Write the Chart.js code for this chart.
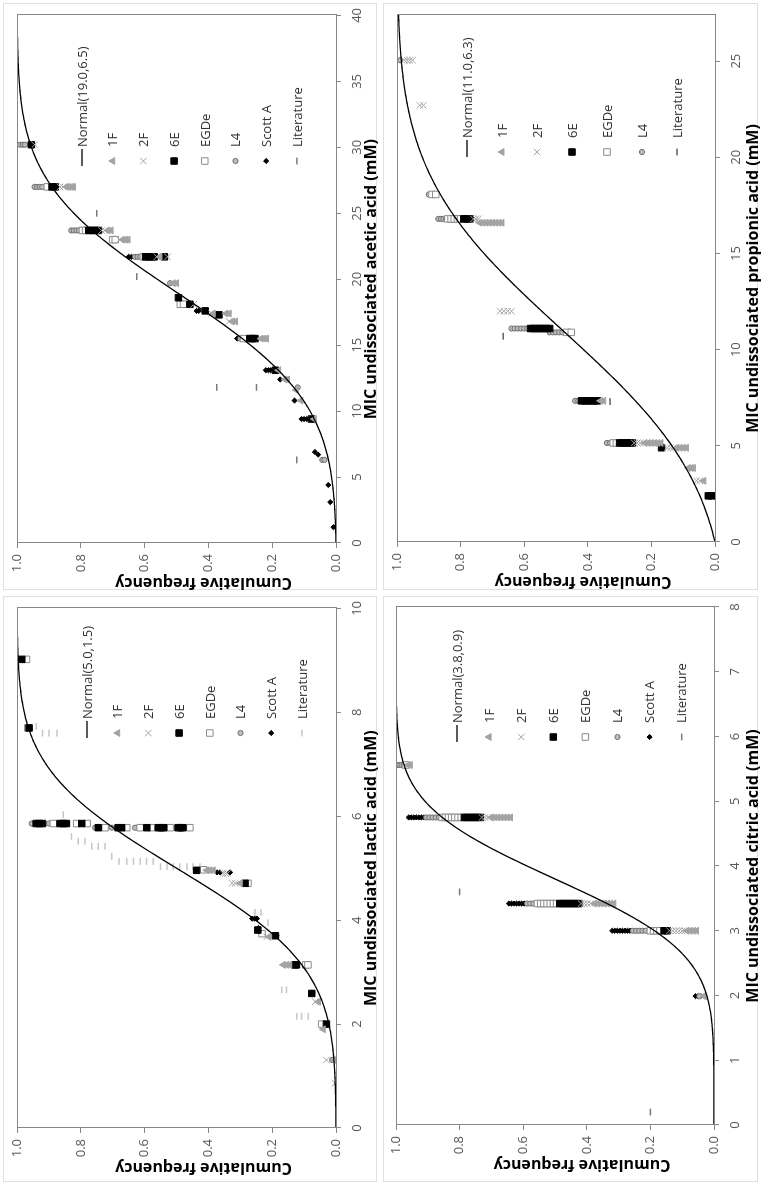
<!DOCTYPE html>
<html lang="en">
<head>
<meta charset="UTF-8">
<title>MIC cumulative frequency</title>
<script src="https://cdn.jsdelivr.net/npm/chart.js"></script>
<style>
  html, body { margin: 0; padding: 0; background: #fff; overflow: hidden; }
  body { width: 761px; height: 1185px; position: relative; }
  /* the four panels are laid out landscape, then the sheet is turned a quarter left */
  #sheet {
    position: absolute; left: 0; top: 0;
    width: 1185px; height: 761px;
    transform-origin: 0 0;
    transform: translate(0, 1185px) rotate(-90deg);
    background: #fff;
  }
  .panel { position: absolute; }
  .panel canvas { display: block; }
</style>
</head>
<body>
<div id="sheet">
  <div class="panel" style="left:0;top:0"><canvas id="lactic" width="592" height="380"></canvas></div>
  <div class="panel" style="left:592px;top:0"><canvas id="acetic" width="593" height="380"></canvas></div>
  <div class="panel" style="left:0;top:380px"><canvas id="citric" width="592" height="381"></canvas></div>
  <div class="panel" style="left:592px;top:380px"><canvas id="propionic" width="593" height="381"></canvas></div>
</div>

<script>
// fitted normal distributions: [mean, sd]
const lacticFit = [5.0, 1.5];
const aceticFit = [19.0, 6.5];
const citricFit = [3.8, 0.9];
const propionicFit = [11.0, 6.3];

// axis ticks
const freqTicks = [0, 0.2, 0.4, 0.6, 0.8, 1.0];
const lacticTicks = [0, 2, 4, 6, 8, 10];
const aceticTicks = [0, 5, 10, 15, 20, 25, 30, 35, 40];
const citricTicks = [0, 1, 2, 3, 4, 5, 6, 7, 8];
const propionicTicks = [0, 5, 10, 15, 20, 25];

// observations, one row per MIC: [mic, cumulative frequency, ...]
const lactic1F = [[4.96, 0.405, 0.395, 0.385], [4.71, 0.30], [3.68, 0.21], [3.14, 0.165, 0.155, 0.145], [2.43, 0.055], [1.9, 0.04], [1.31, 0.008]];
const lactic2F = [[4.9, 0.354, 0.346, 0.34], [4.71, 0.326, 0.316], [3.68, 0.217], [2.43, 0.065], [1.31, 0.03], [0.86, 0.003]];
const lactic6E = [[9.02, 0.985], [7.7, 0.962], [5.86, 0.94, 0.93, 0.92, 0.865, 0.855, 0.845, 0.797], [5.78, 0.745, 0.683, 0.672, 0.593, 0.557, 0.548, 0.54, 0.495, 0.487, 0.48], [4.96, 0.437], [4.71, 0.285], [3.81, 0.245], [3.7, 0.19], [3.14, 0.13, 0.124], [2.59, 0.076], [2.0, 0.03]];
const lacticEGDe = [[9.02, 0.97], [7.7, 0.966], [5.86, 0.886, 0.813, 0.78], [5.78, 0.724, 0.656, 0.614, 0.578, 0.52, 0.458], [4.97, 0.415], [4.71, 0.276], [3.74, 0.232], [3.14, 0.095, 0.088], [2.0, 0.045]];
const lacticL4 = [[9.02, 0.996], [5.86, 0.954, 0.90], [5.78, 0.755, 0.703, 0.63], [4.96, 0.40], [1.31, 0.012]];
const lacticScottA = [[4.92, 0.373, 0.364, 0.332], [4.71, 0.295], [4.03, 0.263, 0.255, 0.248], [3.85, 0.243], [3.7, 0.186]];
const lacticLit = [[7.73, 0.94], [7.6, 0.92, 0.90, 0.875], [6.03, 0.855], [5.61, 0.829], [5.52, 0.808, 0.787], [5.42, 0.766, 0.745, 0.724], [5.23, 0.703], [5.13, 0.68, 0.656, 0.635, 0.614, 0.594, 0.573], [5.03, 0.55, 0.53, 0.51, 0.49, 0.467, 0.448, 0.426], [4.15, 0.254, 0.235], [3.95, 0.213], [2.66, 0.17, 0.155], [2.15, 0.123, 0.108, 0.087]];

const acetic1F = [[27.0, 0.845, 0.838, 0.83, 0.823], [23.7, 0.715, 0.705], [23.0, 0.668, 0.66, 0.652], [21.7, 0.552], [19.7, 0.51, 0.50], [17.4, 0.385, 0.345, 0.335], [16.8, 0.325, 0.315], [15.5, 0.235, 0.226, 0.218], [13.1, 0.18], [12.4, 0.16, 0.152], [11.6, 0.125], [10.8, 0.11], [9.4, 0.068]];
const acetic2F = [[30.2, 0.945], [27.0, 0.865, 0.855], [23.7, 0.735, 0.725], [23.0, 0.678], [21.7, 0.562, 0.528], [18.1, 0.446], [17.4, 0.39], [16.8, 0.335]];
const acetic6E = [[30.2, 0.955], [27.0, 0.89, 0.88], [23.7, 0.775, 0.765, 0.755, 0.745], [21.7, 0.597, 0.588, 0.579, 0.57, 0.538], [18.6, 0.494], [18.1, 0.458], [17.6, 0.41], [17.3, 0.367], [15.5, 0.27, 0.262, 0.254], [13.1, 0.19], [9.4, 0.077]];
const aceticEGDe = [[27.0, 0.905], [23.7, 0.795, 0.785], [23.0, 0.70, 0.692], [21.7, 0.604], [18.1, 0.488, 0.478], [15.5, 0.29]];
const aceticL4 = [[30.2, 0.99, 0.982, 0.975], [27.0, 0.945, 0.937, 0.929, 0.921], [23.7, 0.83, 0.822, 0.814, 0.806], [21.7, 0.63, 0.622, 0.614], [19.7, 0.52], [15.5, 0.30], [11.8, 0.12], [6.3, 0.043, 0.036]];
const aceticScottA = [[21.7, 0.65, 0.641], [17.6, 0.437, 0.43], [15.5, 0.31], [13.1, 0.22, 0.212, 0.205], [12.4, 0.175], [10.8, 0.13], [9.4, 0.108, 0.1, 0.092], [6.9, 0.066], [6.7, 0.056], [4.4, 0.024], [3.1, 0.018], [1.2, 0.008]];
const aceticLit = [[25.0, 0.75], [20.2, 0.625], [11.8, 0.374, 0.249], [6.3, 0.123]];

const citric1F = [[5.56, 0.962, 0.955], [4.75, 0.70, 0.69, 0.68, 0.67, 0.66, 0.65, 0.64], [3.42, 0.375, 0.365, 0.355, 0.345, 0.335, 0.325, 0.315], [3.0, 0.085, 0.075, 0.065, 0.055], [1.99, 0.03]];
const citric2F = [[4.75, 0.73, 0.72, 0.71], [3.42, 0.418, 0.408, 0.398, 0.388], [3.0, 0.14, 0.13, 0.12, 0.11, 0.10, 0.092], [1.99, 0.04, 0.032]];
const citric6E = [[4.75, 0.785, 0.775, 0.765, 0.755, 0.745, 0.735], [3.42, 0.485, 0.475, 0.465, 0.455, 0.445, 0.435, 0.425], [3.0, 0.157, 0.147]];
const citricEGDe = [[5.56, 0.97], [4.75, 0.855, 0.845, 0.835, 0.825, 0.815, 0.805, 0.795], [3.42, 0.555, 0.545, 0.535, 0.525, 0.515, 0.505, 0.495], [3.0, 0.20, 0.19, 0.18, 0.17]];
const citricL4 = [[5.56, 0.998, 0.99, 0.983, 0.976], [4.75, 0.905, 0.895, 0.885, 0.875, 0.865], [3.42, 0.588, 0.578, 0.568], [3.0, 0.255, 0.245, 0.235, 0.225, 0.215], [1.99, 0.046]];
const citricScottA = [[4.75, 0.96, 0.952, 0.944, 0.936, 0.928, 0.92, 0.912], [3.42, 0.645, 0.637, 0.629, 0.621, 0.613, 0.605, 0.597], [3.0, 0.32, 0.312, 0.304, 0.296, 0.288, 0.28, 0.272, 0.264], [1.99, 0.058, 0.05]];
const citricLit = [[3.6, 0.80], [0.2, 0.20]];

const propionic1F = [[16.6, 0.74, 0.73, 0.72, 0.71, 0.70, 0.69, 0.68, 0.67], [7.34, 0.36, 0.35], [5.15, 0.22, 0.21, 0.20, 0.19, 0.18, 0.17], [4.9, 0.12, 0.11, 0.10, 0.09], [3.85, 0.084, 0.075, 0.068], [3.18, 0.035]];
const propionic2F = [[25.05, 0.977, 0.968, 0.96, 0.951], [22.7, 0.928, 0.917], [16.8, 0.76, 0.752, 0.744], [12.0, 0.676, 0.664, 0.652, 0.64], [5.15, 0.254, 0.245, 0.235, 0.225], [4.9, 0.15, 0.14, 0.13], [3.18, 0.058, 0.048]];
const propionic6E = [[16.8, 0.79, 0.78, 0.77], [11.1, 0.58, 0.57, 0.56, 0.55, 0.54, 0.53, 0.52], [7.34, 0.42, 0.41, 0.40, 0.39, 0.38, 0.37], [5.15, 0.30, 0.29, 0.28, 0.27, 0.26], [4.9, 0.168], [2.4, 0.021, 0.01]];
const propionicEGDe = [[18.07, 0.89, 0.878], [16.8, 0.84, 0.83, 0.82, 0.81, 0.80], [10.9, 0.466, 0.452], [5.15, 0.32, 0.31]];
const propionicL4 = [[25.05, 0.99], [18.07, 0.90], [16.8, 0.87, 0.862, 0.854, 0.846], [11.1, 0.64, 0.63, 0.62, 0.61, 0.60, 0.59], [10.9, 0.52, 0.51, 0.50, 0.49, 0.48], [7.34, 0.44, 0.43], [5.15, 0.34, 0.33]];
const propionicLit = [[10.7, 0.666], [7.3, 0.33]];

// marker look per strain
const strainStyle = {
  '1F':         { pointStyle: 'triangle', radius: 4,   fill: '#a3a3a3', line: '#a3a3a3', width: 1 },
  '2F':         { pointStyle: 'crossRot', radius: 4.6, fill: '#a3a3a3', line: '#a3a3a3', width: 1 },
  '6E':         { pointStyle: 'rect',     radius: 4.6, fill: '#000',    line: '#000',    width: 1 },
  'EGDe':       { pointStyle: 'rect',     radius: 4.6, fill: '#fff',    line: '#8a8a8a', width: 1 },
  'L4':         { pointStyle: 'circle',   radius: 2.6, fill: '#bdbdbd', line: '#6e6e6e', width: 1 },
  'Scott A':    { pointStyle: 'rectRot',  radius: 2.6, fill: '#000',    line: '#000',    width: 1 },
  'Literature': { pointStyle: 'line',     radius: 3.4, fill: '#7a7a7a', line: '#7a7a7a', width: 1.5 }
};

Chart.defaults.font.family = "'Open Sans', sans-serif";

function phi(z) {
  // standard normal cdf (Abramowitz & Stegun erf)
  const x = Math.abs(z) / Math.SQRT2;
  const t = 1 / (1 + 0.3275911 * x);
  const erf = 1 - (((((1.061405429 * t - 1.453152027) * t) + 1.421413741) * t - 0.284496736) * t + 0.254829592) * t * Math.exp(-x * x);
  return z >= 0 ? 0.5 * (1 + erf) : 0.5 * (1 - erf);
}

// normal cdf from the fit, restricted to MIC >= 0
function fittedCurve(fit, xMax) {
  const [mu, sd] = fit;
  const base = phi(-mu / sd);
  const pts = [];
  for (let i = 0; i <= 300; i++) {
    const x = xMax * i / 300;
    pts.push({ x: x, y: (phi((x - mu) / sd) - base) / (1 - base) });
  }
  return pts;
}

function unstack(rows) {
  const out = [];
  rows.forEach(r => r.slice(1).forEach(y => out.push({ x: r[0], y: y })));
  return out;
}

const panelDecor = {
  id: 'panelDecor',
  afterDraw(chart, args, o) {
    const ctx = chart.ctx, a = chart.chartArea;
    const W = chart.width, H = chart.height;
    ctx.save();
    ctx.lineWidth = 1;
    ctx.strokeStyle = '#e0e0e0';
    ctx.strokeRect(3.5, 3.5, W - 7, H - 7);

    // plot frame
    const l = Math.round(a.left) + 0.5, t = Math.round(a.top) + 0.5;
    const r = Math.round(a.right) + 0.5, b = Math.round(a.bottom) + 0.5;
    ctx.strokeStyle = '#878787';
    ctx.strokeRect(l, t, r - l, b - t);

    // axis titles
    ctx.fillStyle = '#000';
    ctx.font = "bold 16px 'Open Sans'";
    ctx.textAlign = 'center';
    ctx.textBaseline = 'middle';
    ctx.fillText(o.xTitle, (a.left + a.right) / 2, o.xTitleY);
    ctx.save();
    ctx.translate(a.left - 40, (a.top + a.bottom) / 2 + 27);
    ctx.rotate(-Math.PI / 2);
    ctx.fillText('Cumulative frequency', 0, 0);
    ctx.restore();

    // legend
    ctx.font = "13px 'Open Sans'";
    ctx.textAlign = 'left';
    o.items.forEach((name, i) => {
      const x = o.x, y = o.y + i * o.step;
      if (i === 0) {
        ctx.strokeStyle = '#000';
        ctx.lineWidth = 1.3;
        ctx.beginPath();
        ctx.moveTo(x - 5, y);
        ctx.lineTo(x + 12, y);
        ctx.stroke();
      } else {
        const s = strainStyle[name];
        const col = name === 'Literature' ? o.litColor : s.line;
        ctx.fillStyle = name === 'Literature' ? o.litColor : s.fill;
        ctx.strokeStyle = col;
        ctx.lineWidth = s.width;
        Chart.helpers.drawPoint(ctx, { pointStyle: s.pointStyle, radius: s.radius, borderWidth: s.width, rotation: 0 }, x, y);
      }
      ctx.fillStyle = '#333';
      ctx.fillText(i === 0 ? name : name, x + 14, y + 1);
    });
    ctx.restore();
  }
};

function buildPanel(id, p) {
  const canvas = document.getElementById(id);
  const W = canvas.width, H = canvas.height;
  const normalLabel = 'Normal(' + p.fit[0].toFixed(1) + ',' + p.fit[1].toFixed(1) + ')';
  const datasets = [{
    label: normalLabel,
    data: fittedCurve(p.fit, p.xMax),
    showLine: true, borderColor: '#000', borderWidth: 1.3,
    pointRadius: 0, tension: 0
  }];
  p.series.forEach(([name, rows]) => {
    const s = strainStyle[name];
    const lit = name === 'Literature';
    datasets.push({
      label: name,
      data: unstack(rows),
      showLine: false,
      pointStyle: s.pointStyle,
      pointRadius: s.radius,
      pointBackgroundColor: lit ? p.litColor : s.fill,
      pointBorderColor: lit ? p.litColor : s.line,
      pointBorderWidth: s.width
    });
  });

  const axisGrey = '#878787';
  const tickFont = { size: 13, family: "'Open Sans'" };

  return new Chart(canvas, {
    type: 'scatter',
    data: { datasets: datasets },
    plugins: [panelDecor],
    options: {
      responsive: false,
      devicePixelRatio: 1,
      animation: false,
      events: [],
      layout: { padding: { left: 0, right: W - p.area.right, top: p.area.top, bottom: 0 } },
      plugins: {
        legend: { display: false },
        tooltip: { enabled: false },
        panelDecor: {
          xTitle: p.xTitle, xTitleY: p.xTitleY,
          items: [normalLabel].concat(p.series.map(s => s[0])),
          x: p.legend[0], y: p.legend[1], step: p.legend[2],
          litColor: p.litColor
        }
      },
      scales: {
        x: {
          type: 'linear', min: 0, max: p.xMax,
          afterBuildTicks: s => { s.ticks = p.xTicks.map(v => ({ value: v })); },
          afterFit: s => { s.height = H - p.area.bottom; },
          ticks: { font: tickFont, color: '#595959', padding: 8, maxRotation: 0, autoSkip: false, callback: v => String(v) },
          grid: { drawOnChartArea: false, tickLength: 5, color: axisGrey },
          border: { color: axisGrey }
        },
        y: {
          type: 'linear', min: 0, max: 1,
          afterBuildTicks: s => { s.ticks = freqTicks.map(v => ({ value: v })); },
          afterFit: s => { s.width = p.area.left; },
          ticks: { font: tickFont, color: '#595959', padding: 6, autoSkip: false, callback: v => v.toFixed(1) },
          grid: { drawOnChartArea: false, tickLength: 5, color: axisGrey },
          border: { color: axisGrey }
        }
      }
    }
  });
}

buildPanel('lactic', {
  fit: lacticFit, xMax: 10, xTicks: lacticTicks,
  xTitle: 'MIC undissociated lactic acid (mM)', xTitleY: 371,
  area: { left: 57, right: 577, top: 17, bottom: 336 },
  legend: [452, 87, 30.7], litColor: '#c6c6c6',
  series: [['1F', lactic1F], ['2F', lactic2F], ['6E', lactic6E], ['EGDe', lacticEGDe], ['L4', lacticL4], ['Scott A', lacticScottA], ['Literature', lacticLit]]
});

buildPanel('acetic', {
  fit: aceticFit, xMax: 40, xTicks: aceticTicks,
  xTitle: 'MIC undissociated acetic acid (mM)', xTitleY: 371,
  area: { left: 50, right: 578, top: 17, bottom: 336 },
  legend: [432, 82, 30.7], litColor: '#7a7a7a',
  series: [['1F', acetic1F], ['2F', acetic2F], ['6E', acetic6E], ['EGDe', aceticEGDe], ['L4', aceticL4], ['Scott A', aceticScottA], ['Literature', aceticLit]]
});

buildPanel('citric', {
  fit: citricFit, xMax: 8, xTicks: citricTicks,
  xTitle: 'MIC undissociated citric acid (mM)', xTitleY: 373,
  area: { left: 60, right: 578, top: 16, bottom: 334 },
  legend: [448, 77, 32.1], litColor: '#7a7a7a',
  series: [['1F', citric1F], ['2F', citric2F], ['6E', citric6E], ['EGDe', citricEGDe], ['L4', citricL4], ['Scott A', citricScottA], ['Literature', citricLit]]
});

buildPanel('propionic', {
  fit: propionicFit, xMax: 27.4, xTicks: propionicTicks,
  xTitle: 'MIC undissociated propionic acid (mM)', xTitleY: 373,
  area: { left: 51, right: 578, top: 17, bottom: 335 },
  legend: [441, 87, 35], litColor: '#5f5f5f',
  series: [['1F', propionic1F], ['2F', propionic2F], ['6E', propionic6E], ['EGDe', propionicEGDe], ['L4', propionicL4], ['Literature', propionicLit]]
});
</script>
</body>
</html>
